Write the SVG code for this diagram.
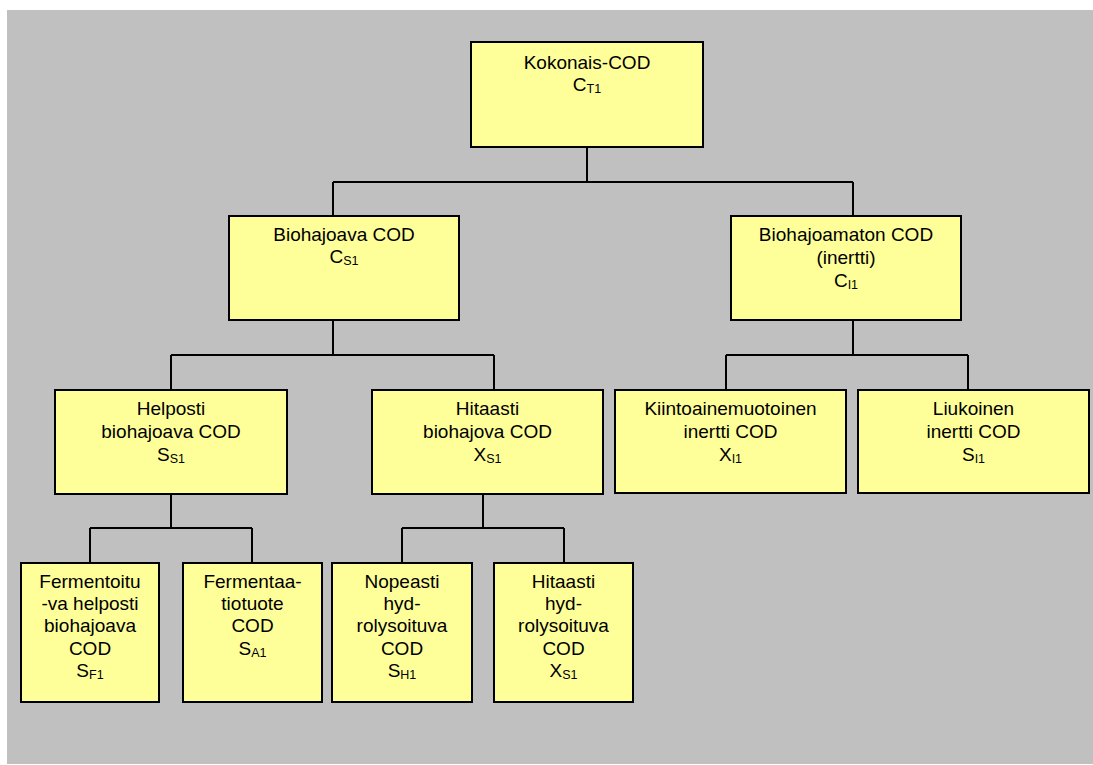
<svg xmlns="http://www.w3.org/2000/svg" width="1093" height="765" viewBox="0 0 1093 765">
<style>
.box{fill:#FFFF99;stroke:#000;stroke-width:2}
.ln{fill:none;stroke:#000;stroke-width:2}
text{font-family:"Liberation Sans",Arial,sans-serif;font-size:19px;fill:#000;text-anchor:middle}
.sub{font-size:12.5px}
</style>
<rect x="0" y="0" width="1093" height="765" fill="#FFFFFF"/>
<rect x="7" y="10" width="1086" height="754" fill="#C0C0C0"/>
<g id="connectors">
<path class="ln" d="M587 147V182M333 182H853M333 182V216M853 182V216"/>
<path class="ln" d="M333 320V355M171 355H494M171 355V390M494 355V390"/>
<path class="ln" d="M853 320V355M726 355H968M726 355V390M968 355V390"/>
<path class="ln" d="M171 494V528M90 528H252M90 528V563M252 528V563"/>
<path class="ln" d="M483 494V528M402 528H564M402 528V563M564 528V563"/>
</g>
<g id="n-total">
<rect class="box" x="471" y="42" width="232" height="105"/>
<text x="587" y="69">Kokonais-COD</text>
<text x="587" y="91">C<tspan class="sub" dy="1.5">T1</tspan></text>
</g>
<g id="n-bio">
<rect class="box" x="229" y="216" width="230" height="104"/>
<text x="344" y="241">Biohajoava COD</text>
<text x="344" y="263">C<tspan class="sub" dy="1.5">S1</tspan></text>
</g>
<g id="n-inert">
<rect class="box" x="731" y="216" width="230" height="104"/>
<text x="846" y="241">Biohajoamaton COD</text>
<text x="846" y="264">(inertti)</text>
<text x="846" y="287">C<tspan class="sub" dy="1.5">I1</tspan></text>
</g>
<g id="n-helposti">
<rect class="box" x="55" y="390" width="232" height="104"/>
<text x="171" y="415">Helposti</text>
<text x="171" y="438">biohajoava COD</text>
<text x="171" y="461">S<tspan class="sub" dy="1.5">S1</tspan></text>
</g>
<g id="n-hitaasti">
<rect class="box" x="372" y="390" width="231" height="104"/>
<text x="487.5" y="415">Hitaasti</text>
<text x="487.5" y="438">biohajova COD</text>
<text x="487.5" y="461">X<tspan class="sub" dy="1.5">S1</tspan></text>
</g>
<g id="n-kiinto">
<rect class="box" x="615" y="390" width="231" height="103"/>
<text x="730.5" y="415">Kiintoainemuotoinen</text>
<text x="730.5" y="438">inertti COD</text>
<text x="730.5" y="461">X<tspan class="sub" dy="1.5">I1</tspan></text>
</g>
<g id="n-liukoinen">
<rect class="box" x="858" y="390" width="231" height="103"/>
<text x="973.5" y="415">Liukoinen</text>
<text x="973.5" y="438">inertti COD</text>
<text x="973.5" y="461">S<tspan class="sub" dy="1.5">I1</tspan></text>
</g>
<g id="n-ferm">
<rect class="box" x="21" y="563" width="138" height="139"/>
<text x="90" y="588">Fermentoitu</text>
<text x="90" y="610">-va helposti</text>
<text x="90" y="632">biohajoava</text>
<text x="90" y="655">COD</text>
<text x="90" y="677">S<tspan class="sub" dy="1.5">F1</tspan></text>
</g>
<g id="n-fermtuote">
<rect class="box" x="183" y="563" width="139" height="139"/>
<text x="252.5" y="588">Fermentaa-</text>
<text x="252.5" y="610">tiotuote</text>
<text x="252.5" y="632">COD</text>
<text x="252.5" y="655">S<tspan class="sub" dy="1.5">A1</tspan></text>
</g>
<g id="n-nopeasti">
<rect class="box" x="332" y="563" width="140" height="139"/>
<text x="402" y="588">Nopeasti</text>
<text x="402" y="610">hyd-</text>
<text x="402" y="632">rolysoituva</text>
<text x="402" y="655">COD</text>
<text x="402" y="677">S<tspan class="sub" dy="1.5">H1</tspan></text>
</g>
<g id="n-hitaasti-hyd">
<rect class="box" x="494" y="563" width="139" height="139"/>
<text x="563.5" y="588">Hitaasti</text>
<text x="563.5" y="610">hyd-</text>
<text x="563.5" y="632">rolysoituva</text>
<text x="563.5" y="655">COD</text>
<text x="563.5" y="677">X<tspan class="sub" dy="1.5">S1</tspan></text>
</g>
</svg>
